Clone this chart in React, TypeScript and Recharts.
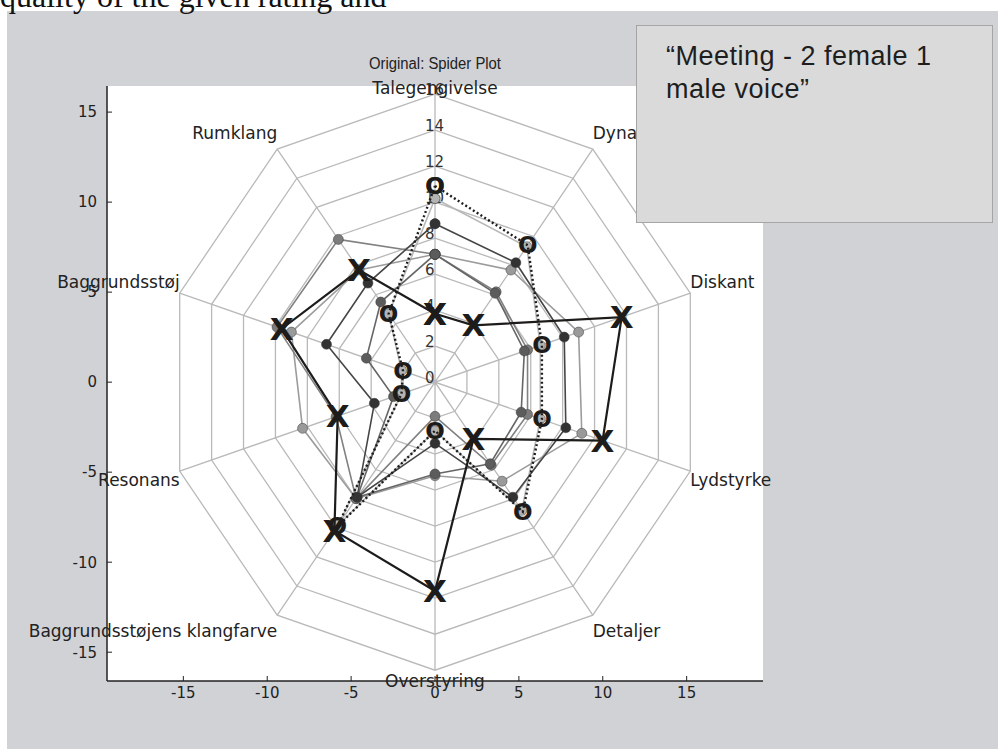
import React from "react"
import { ComposedChart, Scatter, XAxis, YAxis } from "recharts"

const RADIAN = Math.PI / 180

// spoke names, clockwise from the top
const axesNames = [
  "Talegengivelse",
  "Dynamik",
  "Diskant",
  "Lydstyrke",
  "Detaljer",
  "Overstyring",
  "Baggrundsstøjens klangfarve",
  "Resonans",
  "Baggrundsstøj",
  "Rumklang",
]
const ringValues = [2, 4, 6, 8, 10, 12, 14, 16]
const radialTicks = [0, 2, 4, 6, 8, 10, 12, 14, 16]
const xTicks = [-15, -10, -5, 0, 5, 10, 15]
const yTicks = [-15, -10, -5, 0, 5, 10, 15]

// gray listener series
const listenerA = [8.8, 8.2, 8.1, 8.2, 7.9, 3.4, 7.9, 3.8, 6.8, 6.8]
const listenerB = [7.1, 7.7, 9.0, 9.2, 6.8, 5.2, 8.0, 8.3, 9.0, 7.7]
const listenerC = [7.1, 6.2, 5.8, 5.8, 5.7, 1.9, 8.0, 6.2, 9.9, 9.8]
const listenerD = [7.1, 6.1, 5.6, 5.4, 5.6, 5.1, 7.9, 2.6, 4.3, 5.5]
const listenerE = [10.2, 9.3, 6.6, 6.6, 8.8, 2.7, 9.8, 2.1, 2.1, 4.7]
// highlighted series
const seriesX = [3.8, 3.9, 11.7, 10.5, 3.9, 11.6, 10.2, 6.1, 9.6, 7.7]
const seriesO = [10.9, 9.4, 6.7, 6.7, 8.9, 2.7, 9.9, 2.1, 2.0, 4.7]

const toPoint = (r: number, i: number) => {
  const a = (90 - 36 * i) * RADIAN
  return { x: r * Math.cos(a), y: r * Math.sin(a), i }
}
const closed = (values: number[]) => {
  const pts = values.map((v, i) => toPoint(v, i))
  return [...pts, pts[0]]
}

const rings = ringValues.map((r) => closed(axesNames.map(() => r)))
const spokes = axesNames.flatMap((_, i) => [toPoint(0, i), toPoint(16, i)])
const labelPoints = axesNames.map((name, i) => ({ ...toPoint(16, i), name }))
const radialPoints = radialTicks.map((r) => ({ x: 0, y: r, r }))

const gray = [
  { values: listenerE, fill: "#b4b4b4", line: "#b8b8b8" },
  { values: listenerB, fill: "#9a9a9a", line: "#9c9c9c" },
  { values: listenerC, fill: "#7c7c7c", line: "#818181" },
  { values: listenerD, fill: "#5c5c5c", line: "#666666" },
  { values: listenerA, fill: "#333333", line: "#454545" },
]

const font = "DejaVu Sans, Verdana, sans-serif"
const ink = "#1d1c1a"

const nothing = () => <g />

const dot = (fill: string) => (props: any) => {
  const { cx, cy } = props
  if (cx == null) return <g />
  return <circle cx={cx} cy={cy} r={5} fill={fill} stroke="#3a3a3a" strokeOpacity={0.5} strokeWidth={1} />
}

const glyph = (ch: string, size: number) => (props: any) => {
  const { cx, cy } = props
  if (cx == null) return <g />
  return (
    <text x={cx} y={cy} textAnchor="middle" dominantBaseline="central" fontFamily={font} fontWeight="bold" fontSize={size} fill={ink}>
      {ch}
    </text>
  )
}

const radialLabel = (props: any) => {
  const { cx, cy, payload } = props
  return (
    <text x={cx - 10} y={cy - 4} dominantBaseline="central" fontFamily={font} fontSize={15} fill="#333">
      {payload.r}
    </text>
  )
}

const spokeLabel = (props: any) => {
  const { cx, cy, payload } = props
  const a = (90 - 36 * payload.i) * RADIAN
  const c = Math.cos(a)
  const s = Math.sin(a)
  const anchor = c > 0.1 ? "start" : c < -0.1 ? "end" : "middle"
  let dy = s > 0 ? -11 : 9
  if (Math.abs(s) > 0.99) dy = s > 0 ? -6 : 11
  else if (Math.abs(s) > 0.7) dy = s > 0 ? -16 : 16
  return (
    <text x={cx} y={cy + dy} textAnchor={anchor} dominantBaseline="central" fontFamily={font} fontSize={17} fill="#222">
      {payload.name}
    </text>
  )
}

const tickStyle = { fontSize: 15, fill: "#222", fontFamily: font }
const frame = { stroke: "#222", strokeWidth: 1.5 }

export default function App() {
  return (
    <div style={{ position: "fixed", left: 0, top: 0, width: 998, height: 749, background: "#fff", overflow: "hidden" }}>
      <div style={{ position: "absolute", left: 7, top: 11, right: 0, bottom: 0, background: "#d1d2d6" }} />
      <svg width={998} height={80} style={{ position: "absolute", left: 0, top: 0 }}>
        <text x={0} y={7} fontFamily="Liberation Serif, Times New Roman, serif" fontSize={32} fill="#111">
          quality of the given rating and
        </text>
        <text x={435} y={63} textAnchor="middle" dominantBaseline="central" fontFamily="Liberation Sans Narrow, Liberation Sans, Arial, sans-serif" fontSize={16} textLength={132} lengthAdjust="spacingAndGlyphs" fill="#222">
          Original: Spider Plot
        </text>
      </svg>
      <div style={{ position: "absolute", left: 107, top: 86, width: 656, height: 595, background: "#fff" }} />
      <div style={{ position: "absolute", left: 0, top: 0 }}>
        <ComposedChart width={998} height={749} margin={{ top: 86, right: 235, bottom: 38, left: 47 }}>
          <XAxis dataKey="x" type="number" domain={[-19.55, 19.55]} ticks={xTicks} height={30}
            tickSize={-5} tickMargin={11} tick={tickStyle} axisLine={frame} tickLine={{ stroke: "#222" }} />
          <XAxis xAxisId="top" orientation="top" dataKey="x" type="number" domain={[-19.55, 19.55]} ticks={xTicks}
            height={0} tickSize={-5} tick={false} axisLine={frame} tickLine={{ stroke: "#222" }} />
          <YAxis dataKey="y" type="number" domain={[-16.6, 16.45]} ticks={yTicks} width={60}
            tickSize={-5} tickMargin={15} tick={tickStyle} axisLine={frame} tickLine={{ stroke: "#222" }} />
          <YAxis yAxisId="right" orientation="right" dataKey="y" type="number" domain={[-16.6, 16.45]} ticks={yTicks}
            width={0} tickSize={-5} tick={false} axisLine={frame} tickLine={{ stroke: "#222" }} />

          <Scatter data={spokes} line={{ stroke: "#b9b9b9", strokeWidth: 1.3 }} shape={nothing} isAnimationActive={false} />
          {rings.map((ring, k) => (
            <Scatter key={`ring-${k}`} data={ring} line={{ stroke: "#b9b9b9", strokeWidth: 1.3 }} shape={nothing} isAnimationActive={false} />
          ))}
          <Scatter data={radialPoints} shape={radialLabel} isAnimationActive={false} />
          <Scatter data={labelPoints} shape={spokeLabel} isAnimationActive={false} />

          {gray.map((g, k) => (
            <Scatter key={`gray-${k}`} data={closed(g.values)} line={{ stroke: g.line, strokeWidth: 1.6 }} shape={dot(g.fill)} isAnimationActive={false} />
          ))}
          <Scatter data={closed(seriesX)} line={{ stroke: ink, strokeWidth: 2.2 }} shape={glyph("X", 31)} isAnimationActive={false} />
          <Scatter data={closed(seriesO)} line={{ stroke: ink, strokeWidth: 2.4, strokeDasharray: "2 2.5" }} shape={glyph("O", 23)} isAnimationActive={false} />
        </ComposedChart>
      </div>
      <div style={{ position: "absolute", left: 636, top: 25, width: 357, height: 198, boxSizing: "border-box", background: "#dadada", border: "1px solid #a5a5a5", padding: "14px 0 0 29px", fontFamily: "Liberation Sans, Arial, sans-serif", fontSize: 27, lineHeight: "33px", letterSpacing: 0.5, color: "#1e1e1e" }}>
        <div>“Meeting - 2 female 1</div>
        <div>male voice”</div>
      </div>
    </div>
  )
}
